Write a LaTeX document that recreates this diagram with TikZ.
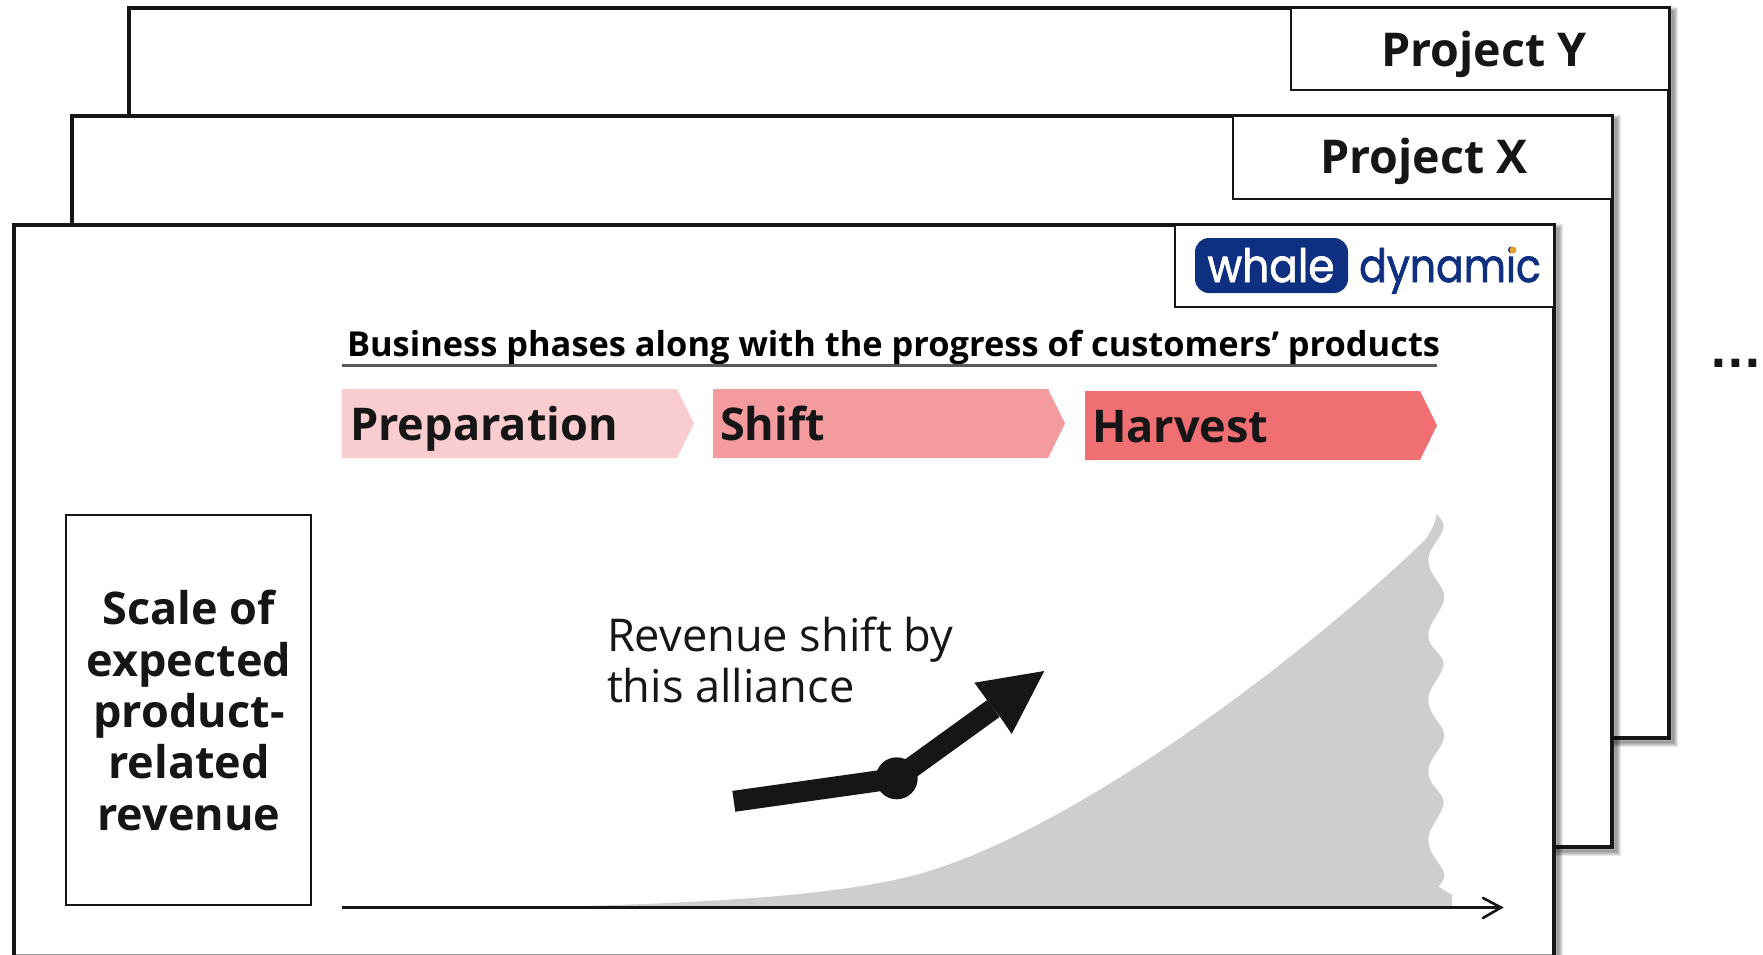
\documentclass[tikz,border=0pt]{standalone}
\usepackage{fontspec}
\setmainfont{Open Sans}
\newfontfamily\logofontm[FakeBold=1.6]{Poppins}
\newfontfamily\dotfont{DejaVu Sans}
\newcommand{\fs}[2]{\fontsize{#1}{#2}\selectfont}
\definecolor{ink}{HTML}{161616}
\definecolor{phaseA}{HTML}{F9CDCF}
\definecolor{phaseB}{HTML}{F49B9F}
\definecolor{phaseC}{HTML}{EF6F73}
\definecolor{areagray}{HTML}{CFCDCE}
\definecolor{logoblue}{HTML}{0F2F80}
\definecolor{logoorange}{HTML}{E8A030}
\tikzset{
  x=1pt,y=-1pt,
  framebox/.style={draw=ink,line width=4pt,fill=white,line join=miter},
  tabbox/.style={draw=ink,line width=2.4pt,fill=white},
  softshadow/.style={draw=black,opacity=0.09,fill=none},
  label/.style={inner sep=0pt,outer sep=0pt,text=ink},
  phase/.style={label,anchor=base west,font=\fs{45.1}{50}\bfseries},
  tabtext/.style={label,anchor=base,font=\fs{46.6}{50}\bfseries},
}
\newcommand{\softrect}[4]{%
  \foreach \w in {10,8,6,4,2}{\draw[softshadow,line width=\w pt] (#1+4,#2+4) rectangle (#3+4,#4+4);}%
}
\begin{document}
\begin{tikzpicture}
\useasboundingbox (0,0) rectangle (1763,955);
\clip (0,0) rectangle (1763,955);
\fill[white] (0,0) rectangle (1763,955);

% Project Y
\softrect{129}{8}{1669}{738}
\draw[framebox] (129,8) rectangle (1669,738);
\draw[tabbox] (1291,8) rectangle (1669,90);
\node[tabtext] (py) at (1484,67) {Project Y};

% Project X
\softrect{72}{116}{1612}{847}
\draw[framebox] (72,116) rectangle (1612,847);
\draw[tabbox] (1233,116) rectangle (1612,199);
\node[tabtext] (px) at (1424,173) {Project X};

% Front sheet
\softrect{14}{225}{1554}{1000}
\draw[framebox] (14,225) rectangle (1554,1000);
\draw[draw=black!40,line width=1pt] (16,954) -- (1552,954);
\draw[tabbox] (1175,225) rectangle (1554,307);

% Logo
\fill[logoblue,rounded corners=14pt] (1195,238) rectangle (1348,293);
\node[label,anchor=base,text=white,font=\fs{46}{50}\logofontm] (logoa) at (1271,282) {\scalebox{0.92}[1]{whale}};
\node[label,anchor=base,text=logoblue,font=\fs{46}{50}\logofontm] (logob) at (1450,282) {\scalebox{0.89}[1]{dynamic}};
\fill[logoorange] (1513,250) circle (3.5pt);

% Heading
\node[label,anchor=base west,font=\fs{34.4}{38}\bfseries,text=black] (head) at (347,356) {Business phases along with the progress of customers’ products};
\coordinate (ula) at (342,365.5);
\coordinate (ulb) at (1437,365.5);
\draw[draw=black!65,line width=2.4pt] (ula) -- (ulb);

% Phases
\fill[phaseA] (342,389) -- (677,389) -- (694,423.5) -- (677,458) -- (342,458) -- cycle;
\fill[phaseB] (713,389) -- (1048,389) -- (1065,423.5) -- (1048,458) -- (713,458) -- cycle;
\fill[phaseC] (1085,391) -- (1420,391) -- (1437,425.5) -- (1420,460) -- (1085,460) -- cycle;
\node[phase] (pa) at (350,440) {Preparation};
\node[phase] (pb) at (720,440) {Shift};
\node[phase] (pc) at (1092,442) {Harvest};

% Left box
\draw[draw=ink,line width=2pt] (66,515) rectangle (311,905);
\node[label,align=center,anchor=base,font=\fs{45}{51.3}\bfseries] (scale) at (189,830)
  {Scale of\\expected\\product-\\related\\revenue};

% Area
\fill[areagray] (520,907.5)
  .. controls (700,904) and (846,896) .. (926,872)
  .. controls (1080,826) and (1305,656) .. (1425,540)
  .. controls (1432,530) and (1435,523) .. (1436.7,514.3)
  .. controls (1440,518) and (1444,522) .. (1443.7,526.7)
  .. controls (1442,538) and (1428,548) .. (1428.3,560)
  .. controls (1428,575) and (1444,585) .. (1444.3,596.7)
  .. controls (1444,610) and (1428,622) .. (1428.3,635)
  .. controls (1428,648) and (1444,655) .. (1443.7,664)
  .. controls (1442,677) and (1428,687) .. (1428.3,700)
  .. controls (1428,715) and (1444,725) .. (1444.3,735)
  .. controls (1444,748) and (1428,758) .. (1428.3,771.7)
  .. controls (1428,785) and (1444,793) .. (1443.7,802.7)
  .. controls (1442,816) and (1428,827) .. (1428.3,840)
  .. controls (1428,855) and (1444,866) .. (1444.3,875)
  .. controls (1444,880) and (1441,884) .. (1438.3,886.7)
  -- (1452.3,895) -- (1451.7,907) -- cycle;

% Axis
\coordinate (axa) at (342,907.5);
\coordinate (axb) at (1501,907.5);
\draw[draw=ink,line width=2.2pt] (axa) -- (axb);
\draw[draw=ink,line width=2.6pt,line cap=round,line join=miter] (1483,898) -- (axb) -- (1483,918);

% Text
\node[label,align=left,anchor=base west,font=\fs{45.2}{51}] (rev) at (607,702) {Revenue shift by\\this alliance};

% Arrow
\coordinate (ara) at (733.8,801.3);
\coordinate (arb) at (896.7,778.3);
\coordinate (arc) at (993.5,708.4);
\draw[draw=ink,line width=21pt] (ara) -- (arb) -- (arc);
\fill[ink] (arb) circle (21pt);
\fill[ink] (1044.3,671) -- (974.3,682.7) -- (987,700) -- (1000,716.7) -- (1011.7,734) -- cycle;

% Dots
\node[label,anchor=base,font=\fs{44}{46}\dotfont\bfseries] (more) at (1736,367) {...};
\end{tikzpicture}
\end{document}
